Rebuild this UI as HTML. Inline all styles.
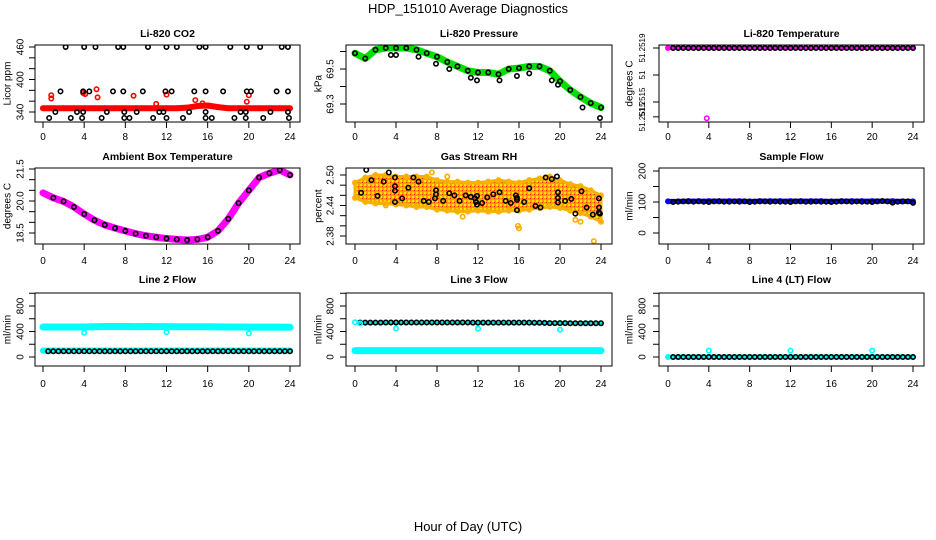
<!DOCTYPE html>
<html><head><meta charset="utf-8"><style>
html,body{margin:0;padding:0;background:#fff;}
svg{display:block;font-family:"Liberation Sans",sans-serif;}
</style></head><body>
<svg id="chart" width="936" height="540" viewBox="0 0 936 540" xmlns="http://www.w3.org/2000/svg">
<defs>
<pattern id="speckle" width="4" height="4" patternUnits="userSpaceOnUse">
<rect width="4" height="4" fill="#f5a000"/>
<rect x="0" y="0" width="2" height="2" fill="#ffe000"/>
<rect x="2" y="2" width="1" height="1" fill="#ff2000"/>
</pattern>
</defs>
<text x="468" y="13" text-anchor="middle" font-size="13">HDP_151010  Average Diagnostics</text>
<text x="468" y="531" text-anchor="middle" font-size="13">Hour of Day (UTC)</text>
</svg>
<script>
// ---- shared hour arrays ----
const HR=[0,1,2,3,4,5,6,7,8,9,10,11,12,13,14,15,16,17,18,19,20,21,22,23,24];
const H48=[0.5,1,1.5,2,2.5,3,3.5,4,4.5,5,5.5,6,6.5,7,7.5,8,8.5,9,9.5,10,10.5,11,11.5,12,12.5,13,13.5,14,14.5,15,15.5,16,16.5,17,17.5,18,18.5,19,19.5,20,20.5,21,21.5,22,22.5,23,23.5,24];
const xTicks=[0,4,8,12,16,20,24];

// ---- P1 CO2 ----
const co2Red=[347,347,347,347,347,347,347,347,347,347,347,347,347,347,348,351,352,349,347,347,347,347,347,347,347];
const co2RedOutT=[0.8,0.8,3.9,4.1,5.2,5.3,8.8,11,12,14.8,15.5,19.8,20];
const co2RedOutV=[371,365,375,373,382,367,370,355,372,362,356,359,371];
const co2BlkT=[2.2,4,5.1,7.3,7.8,10.2,12,13,15.2,15.8,18.2,19.8,21.1,23.2,23.8, 1.7,3.9,4.5,6.8,7.8,9.7,11.9,12.5,14.7,15.8,17.5,19.8,20.2,22.7,23.8, 1.2,3.3,3.9,6.2,7.9,9.1,11.3,11.7,14.2,15.8,19.2,19.7,22.1,23.8, 0.6,2.7,3.8,5.7,7.9,8.4,10.7,12.0,13.6,15.8,16.4,18.6,19.7,21.4,23.9];
const co2BlkV=[460,460,460,460,460,460,460,460,460,460,460,460,460,460,460, 378,378,378,378,378,378,378,378,378,378,378,378,378,378,378, 340,340,340,340,340,340,340,340,340,340,340,340,340,340, 329,329,329,329,329,329,329,329,329,329,329,329,329,329,329];
// ---- P2 pressure ----
const presGreen=[69.59,69.56,69.61,69.62,69.62,69.62,69.61,69.59,69.57,69.54,69.515,69.49,69.48,69.48,69.47,69.50,69.505,69.515,69.515,69.49,69.43,69.38,69.34,69.305,69.28];
const presOutT=[3.5,4,6.2,7.9,9.2,11.3,11.9,14.1,15.8,17,19.2,19.8,22.2,23.9];
const presOutV=[69.58,69.58,69.57,69.53,69.5,69.45,69.435,69.435,69.46,69.475,69.435,69.41,69.28,69.22];
// ---- P3 Li-820 temperature ----
const tempBlk=[51.2519,51.2519,51.2519,51.2519,51.2519,51.2519,51.2519,51.2519,51.2519,51.2519,51.2519,51.2519,51.2519,51.2519,51.2519,51.2519,51.2519,51.2519,51.2519,51.2519,51.2519,51.2519,51.2519,51.2519,51.2519,51.2519,51.2519,51.2519,51.2519,51.2519,51.2519,51.2519,51.2519,51.2519,51.2519,51.2519,51.2519,51.2519,51.2519,51.2519,51.2519,51.2519,51.2519,51.2519,51.2519,51.2519,51.2519,51.2519];
const tempMag=[51.2519,51.2519,51.2519,51.2519,51.2519,51.2519,51.2519,51.2519,51.2519,51.2519,51.2519,51.2519,51.2519,51.2519,51.2519,51.2519,51.2519,51.2519,51.2519,51.2519,51.2519,51.2519,51.2519,51.2519,51.2519];
const tempOutT=[3.8], tempOutV=[51.25138];
// ---- P4 ambient ----
const ambient=[20.38,20.15,19.98,19.72,19.39,19.1,18.88,18.73,18.6,18.47,18.37,18.3,18.24,18.2,18.17,18.2,18.3,18.6,19.16,19.9,20.5,21.1,21.3,21.45,21.22];
// ---- P5 RH ----
const rhUpper=[2.485,2.495,2.50,2.50,2.497,2.497,2.497,2.497,2.49,2.487,2.487,2.485,2.485,2.487,2.49,2.487,2.485,2.49,2.493,2.497,2.49,2.482,2.478,2.47,2.46];
const rhLower=[2.455,2.447,2.444,2.444,2.442,2.44,2.437,2.437,2.432,2.43,2.428,2.428,2.43,2.428,2.428,2.43,2.43,2.432,2.435,2.437,2.435,2.43,2.425,2.418,2.408];
const rhOrOutT=[7.5,9,15.9,16,21.5,22,23.3,23.7,3,10.5];
const rhOrOutV=[2.505,2.497,2.40,2.395,2.412,2.408,2.37,2.36,2.44,2.418];
const rhBlkT=[0.6,1.1,1.6,2.2,2.8,3.3,3.9,3.9,3.9,3.9,4.6,5.2,5.7,6.2,6.7,7.2,7.8,7.9,7.9,8.6,9.2,9.7,10.2,10.8,11.3,11.7,11.8,11.9,11.9,12.4,12.9,13.5,14.1,14.7,15.2,15.7,15.8,15.8,15.8,16.5,17,17.6,18.1,18.6,19.2,19.7,19.8,19.8,19.8,20.5,21.1,21.5,22.1,22.6,23.2,23.8,23.8,23.8,23.9];
const rhBlkV=[2.465,2.510,2.490,2.459,2.487,2.505,2.495,2.478,2.469,2.447,2.454,2.475,2.495,2.487,2.449,2.447,2.454,2.470,2.462,2.449,2.464,2.460,2.449,2.460,2.457,2.454,2.447,2.442,2.459,2.445,2.456,2.462,2.466,2.449,2.445,2.460,2.455,2.451,2.431,2.447,2.474,2.439,2.436,2.495,2.492,2.497,2.466,2.455,2.446,2.449,2.453,2.424,2.468,2.436,2.422,2.454,2.436,2.426,2.424];
// ---- P6 sample flow ----
const flowBlue=[102,102,103,103,103,103,103,103,102,103,103,103,103,103,103,103,102,103,103,103,103,103,103,102,102];
const flowBlk=[100,101,102,102,101,102,101,100,102,102,101,101,102,101,102,100,101,102,102,101,102,101,101,100,102,102,101,101,102,101,101,100,101,102,102,101,102,101,101,100,102,103,102,98,101,102,102,97];
// ---- P7 line 2 ----
const l2Upper=[470,470,470,470,470,475,478,478,478,476,478,476,476,474,474,474,474,472,470,470,468,468,468,468,466];
const l2Lower=[100,100,100,100,100,100,100,100,100,100,100,100,100,100,100,100,100,100,100,100,100,100,100,100,100];
const l2Blk=[90,90,90,90,90,90,90,90,90,90,90,90,90,90,90,90,90,90,90,90,90,90,90,90,90,90,90,90,90,90,90,90,90,90,90,90,90,90,90,90,90,90,90,90,90,90,90,90];
const l2OutT=[4,12,20], l2OutV=[380,390,370];
// ---- P8 line 3 ----
const l3Cyan=[100,100,100,100,100,100,100,100,100,100,100,100,100,100,100,100,100,100,100,100,100,100,100,100,100];
const l3Blk=[540,540,540,540,540,542,542,542,542,542,542,542,542,542,542,542,542,542,542,542,542,542,540,540,540,540,540,540,540,540,540,540,540,540,538,538,535,532,532,532,532,530,530,530,530,530,530,530];
const l3OutT=[0,0.5,4,12,20], l3OutV=[545,528,450,445,430];
// ---- P9 line 4 ----
const l4Cyan=[0,0,0,0,0,0,0,0,0,0,0,0,0,0,0,0,0,0,0,0,0,0,0,0,0];
const l4Blk=[0,0,0,0,0,0,0,0,0,0,0,0,0,0,0,0,0,0,0,0,0,0,0,0,0,0,0,0,0,0,0,0,0,0,0,0,0,0,0,0,0,0,0,0,0,0,0,0];
const l4OutT=[4,12,20], l4OutV=[100,100,100];

const NS="http://www.w3.org/2000/svg";
const svg=document.getElementById('chart');
function mk(tag,attrs,parent){const e=document.createElementNS(NS,tag);for(const k in attrs)e.setAttribute(k,attrs[k]);(parent||svg).appendChild(e);return e;}

const cols=[{bl:35,br:300,x0:43,x24:290,lab:20,tit:7},{bl:346,br:612,x0:355,x24:601,lab:330,tit:318},{bl:659,br:924,x0:668,x24:913,lab:642,tit:629}];
const rows=[{bt:45,bb:122,title:37,tl:140},{bt:168,bb:244,title:160,tl:264},{bt:293,bb:366,title:283,tl:387}];

function panel(name,ci,ri,title,ylab,ya,yb,ticks,labels,draw,lfs){
  const c=cols[ci],r=rows[ri];
  const g=mk('g',{});
  
  
  const X=t=>c.x0+(c.x24-c.x0)*t/24;
  const Y=v=>ya[1]+(v-ya[0])*(yb[1]-ya[1])/(yb[0]-ya[0]);
  const clip='clip'+ci+ri;
  const cp=mk('clipPath',{id:clip},g);mk('rect',{x:c.bl,y:r.bt,width:c.br-c.bl,height:r.bb-r.bt},cp);
  const pg=mk('g',{'clip-path':'url(#'+clip+')'},g);
  
  
  draw(pg,X,Y);
  mk('rect',{x:c.bl,y:r.bt,width:c.br-c.bl,height:r.bb-r.bt,fill:'none',stroke:'#000','stroke-width':1},g);
  const t=mk('text',{x:(c.bl+c.br)/2,y:r.title,'text-anchor':'middle','font-size':10.5,'font-weight':'bold'},g);
  t.textContent=title;
  
  
  xTicks.forEach(v=>{
    mk('line',{x1:X(v),x2:X(v),y1:r.bb,y2:r.bb+6,stroke:'#000'},g);
    const tx=mk('text',{x:X(v),y:r.tl,'text-anchor':'middle','font-size':10},g);tx.textContent=v;
    
    
  });
  ticks.forEach((v,i)=>{
    mk('line',{x1:c.bl-6,x2:c.bl,y1:Y(v),y2:Y(v),stroke:'#000'},g);
    if(labels[i]){const tx=mk('text',{x:c.lab,y:Y(v),'text-anchor':'middle','font-size':lfs||10,transform:`rotate(-90 ${c.lab} ${Y(v)})`,dy:'0.35em'},g);tx.textContent=labels[i];
    
    }
  });
  const ym=(r.bt+r.bb)/2;
  const yt=mk('text',{x:c.tit,y:ym,'text-anchor':'middle','font-size':10,transform:`rotate(-90 ${c.tit} ${ym})`,dy:'0.35em'},g);
  yt.textContent=ylab;
  
  
}
function band(g,X,Y,ts,vs,color,w,nm){
  const p=mk('polyline',{points:ts.map((t,i)=>X(t)+','+Y(vs[i])).join(' '),fill:'none',stroke:color,'stroke-width':w,'stroke-linecap':'round','stroke-linejoin':'round'},g);
  
  
  ts.forEach((t,i)=>mk('circle',{cx:X(t),cy:Y(vs[i]),r:2.2,fill:'none',stroke:color,'stroke-width':1.5},g));
}
function pts(g,X,Y,ts,vs,color,nm){
  ts.forEach((t,i)=>{const c=mk('circle',{cx:X(t),cy:Y(vs[i]),r:2.2,fill:'none',stroke:color,'stroke-width':1.6},g);
    
    });
}

panel('co2-panel',0,0,'Li-820 CO2','Licor ppm',[460,47],[340,112],[340,360,380,400,420,440,460],['340','','','400','','','460'],(g,X,Y)=>{
  band(g,X,Y,HR,co2Red,'#ff0000',6,'co2-red-series');
  pts(g,X,Y,co2RedOutT,co2RedOutV,'#ff0000','co2-red-point');
  pts(g,X,Y,co2BlkT,co2BlkV,'#000','co2-black-point');
});
panel('pressure-panel',1,0,'Li-820 Pressure','kPa',[69.5,69],[69.3,104],[69.3,69.4,69.5,69.6],['69.3','','69.5',''],(g,X,Y)=>{
  band(g,X,Y,HR,presGreen,'#00e000',7,'pressure-green-series');
  pts(g,X,Y,HR,presGreen,'#000','pressure-black-point');
  pts(g,X,Y,presOutT,presOutV,'#000','pressure-black-point');
});
panel('li820-temp-panel',2,0,'Li-820 Temperature','degrees C',[51.2519,48],[51.2515,102],[51.2519,51.2517,51.2515,51.25139],['51.2519','51','51.2515','51.2515'],(g,X,Y)=>{
  band(g,X,Y,HR,tempMag,'#ff00ff',4,'temp-magenta-series');
  pts(g,X,Y,H48,tempBlk,'#000','temp-black-point');
  pts(g,X,Y,tempOutT,tempOutV,'#ff00ff','temp-magenta-point');
},8);
panel('ambient-panel',0,1,'Ambient Box Temperature','degrees C',[21.5,169],[18.5,233],[18.5,19,19.5,20,20.5,21,21.5],['18.5','','','20.0','','','21.5'],(g,X,Y)=>{
  band(g,X,Y,HR,ambient,'#ff00ff',7,'ambient-magenta-series');
  pts(g,X,Y,HR.slice(1),ambient.slice(1),'#000','ambient-black-point');
});
panel('rh-panel',1,1,'Gas Stream RH','percent',[2.50,175],[2.38,236],[2.38,2.40,2.42,2.44,2.46,2.48,2.50],['2.38','','','2.44','','','2.50'],(g,X,Y)=>{
  const poly=HR.map((t,i)=>X(t)+','+Y(rhUpper[i])).concat(HR.slice().reverse().map((t,j)=>X(t)+','+Y(rhLower[HR.length-1-j]))).join(' ');
  const a=mk('polygon',{points:poly,fill:'url(#speckle)',stroke:'#f5b000','stroke-width':3,'stroke-linejoin':'round'},g);
  
  
  pts(g,X,Y,HR,rhUpper,'#ffb000','rh-orange-point');
  pts(g,X,Y,HR,rhLower,'#ffb000','rh-orange-point');
  pts(g,X,Y,rhOrOutT,rhOrOutV,'#ffaa00','rh-orange-point');
  pts(g,X,Y,rhBlkT,rhBlkV,'#000','rh-black-point');
});
panel('sample-flow-panel',2,1,'Sample Flow','ml/min',[200,171],[0,233],[0,50,100,150,200],['0','','100','','200'],(g,X,Y)=>{
  band(g,X,Y,HR,flowBlue,'#0000ff',5,'sample-flow-blue-series');
  pts(g,X,Y,H48,flowBlk,'#000','sample-flow-black-point');
});
panel('line2-panel',0,2,'Line 2 Flow','ml/min',[800,306],[0,357],[0,200,400,600,800,1000],['0','','400','','800',''],(g,X,Y)=>{
  band(g,X,Y,HR,l2Upper,'#00ffff',7,'line2-cyan-upper');
  band(g,X,Y,HR,l2Lower,'#00ffff',6,'line2-cyan-lower');
  pts(g,X,Y,H48,l2Blk,'#000','line2-black-point');
  pts(g,X,Y,l2OutT,l2OutV,'#00ffff','line2-cyan-point');
});
panel('line3-panel',1,2,'Line 3 Flow','ml/min',[800,306],[0,357],[0,200,400,600,800,1000],['0','','400','','800',''],(g,X,Y)=>{
  band(g,X,Y,HR,l3Cyan,'#00ffff',7,'line3-cyan-series');
  band(g,X,Y,H48,l3Blk,'#00e0e0',4,'line3-cyan-upper');
  pts(g,X,Y,H48,l3Blk,'#000','line3-black-point');
  pts(g,X,Y,l3OutT,l3OutV,'#00ffff','line3-cyan-point');
});
panel('line4-panel',2,2,'Line 4 (LT) Flow','ml/min',[800,306],[0,357],[0,200,400,600,800,1000],['0','','400','','800',''],(g,X,Y)=>{
  band(g,X,Y,HR,l4Cyan,'#00ffff',5,'line4-cyan-series');
  pts(g,X,Y,H48,l4Blk,'#000','line4-black-point');
  pts(g,X,Y,l4OutT,l4OutV,'#00ffff','line4-cyan-point');
});
</script>
</body></html>
